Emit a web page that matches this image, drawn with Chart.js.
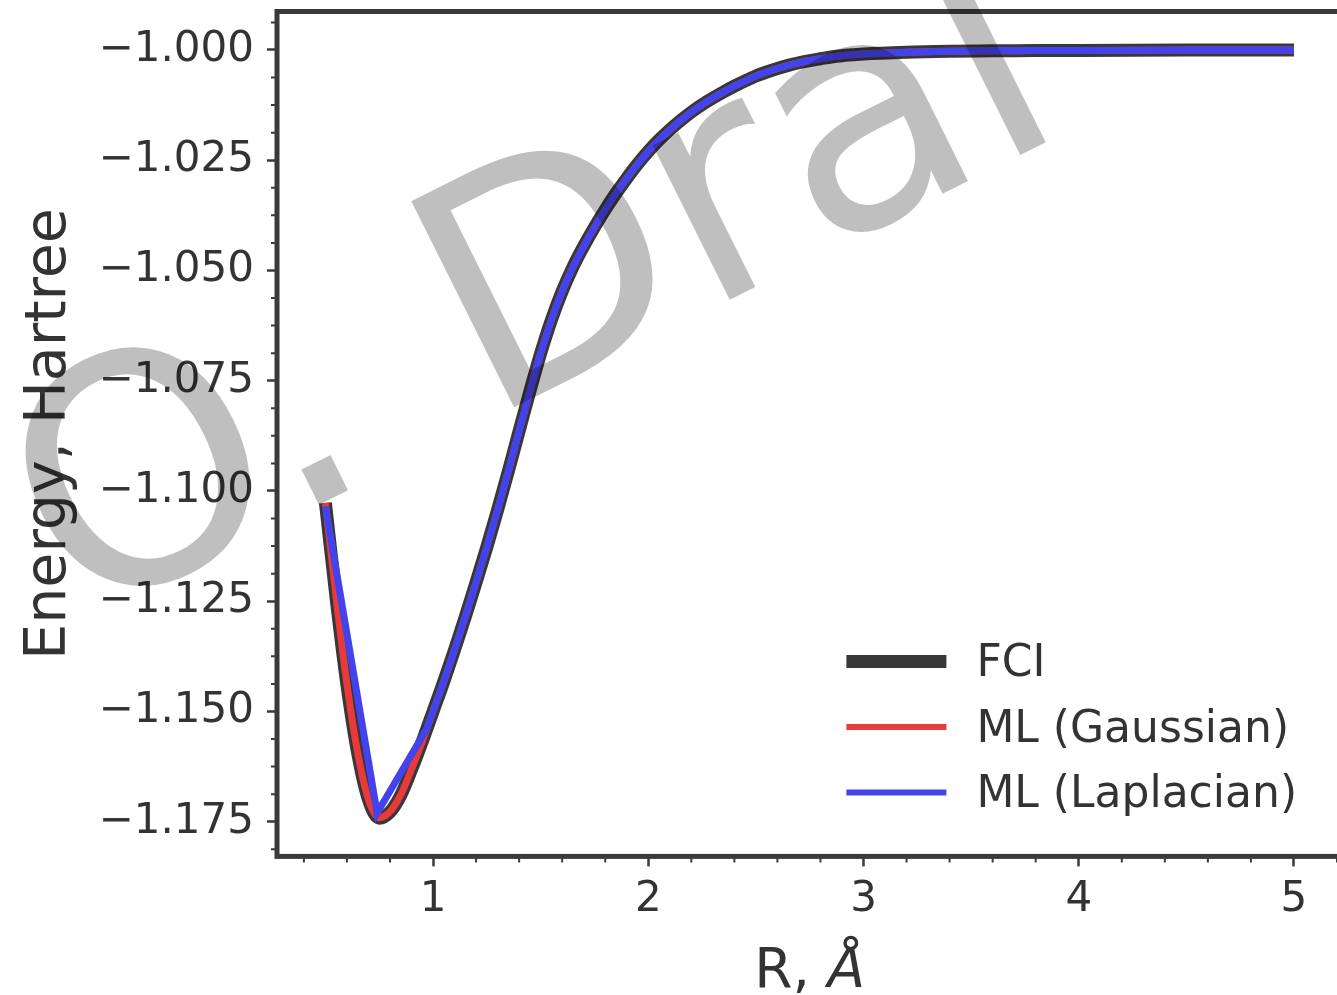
<!DOCTYPE html>
<html>
<head>
<meta charset="utf-8">
<title>H2 potential energy curve</title>
<script src="https://cdn.jsdelivr.net/npm/chart.js@4.4.1/dist/chart.umd.min.js"></script>
<style>
  html, body { margin: 0; padding: 0; background: #fff; overflow: hidden; }
  canvas { display: block; }
</style>
</head>
<body>
<canvas id="pesChart" width="1346" height="995"></canvas>
<script>
// H-H distance (Angstrom) and total energies (Hartree)
const distances = [
  0.50, 0.55, 0.60, 0.65, 0.70, 0.75, 0.80, 0.85, 0.90, 0.95,
  1.00, 1.05, 1.10, 1.15, 1.20, 1.25, 1.30, 1.35, 1.40, 1.45,
  1.50, 1.55, 1.60, 1.65, 1.70, 1.75, 1.80, 1.85, 1.90, 1.95,
  2.00, 2.05, 2.10, 2.15, 2.20, 2.25, 2.30, 2.35, 2.40, 2.45,
  2.50, 2.55, 2.60, 2.65, 2.70, 2.75, 2.80, 2.85, 2.90, 2.95,
  3.00, 3.20, 3.40, 3.60, 3.80, 4.00, 4.50, 5.00
];
const fciEnergy = [
  -1.1027, -1.1245, -1.1440, -1.1595, -1.1700, -1.1742, -1.1728, -1.1690, -1.1632, -1.1568,
  -1.1500, -1.1432, -1.1360, -1.1285, -1.1207, -1.1127, -1.1043, -1.0955, -1.0864, -1.0774,
  -1.0688, -1.0612, -1.0547, -1.0492, -1.0445, -1.0402, -1.0362, -1.0325, -1.0291, -1.0259,
  -1.0230, -1.0204, -1.0181, -1.0160, -1.0141, -1.0124, -1.0109, -1.0095, -1.0082, -1.0070,
  -1.0059, -1.0050, -1.0042, -1.0035, -1.0029, -1.0024, -1.0020, -1.0016, -1.0013, -1.0011,
  -1.0009, -1.0005, -1.0003, -1.0002, -1.0001, -1.0001, -1.0000, -1.0000
];
const gaussianEnergy = [
  -1.1027, -1.1243, -1.1438, -1.1594, -1.1700, -1.1741, -1.1727, -1.1689, -1.1631, -1.1568,
  -1.1500, -1.1432, -1.1360, -1.1285, -1.1207, -1.1127, -1.1043, -1.0955, -1.0864, -1.0774,
  -1.0688, -1.0612, -1.0547, -1.0492, -1.0445, -1.0402, -1.0362, -1.0325, -1.0291, -1.0259,
  -1.0230, -1.0204, -1.0181, -1.0160, -1.0141, -1.0124, -1.0109, -1.0095, -1.0082, -1.0070,
  -1.0059, -1.0050, -1.0042, -1.0035, -1.0029, -1.0024, -1.0020, -1.0016, -1.0013, -1.0011,
  -1.0009, -1.0005, -1.0003, -1.0002, -1.0001, -1.0001, -1.0000, -1.0000
];
const laplacianDistances = [
  0.50, 0.74, 0.97,
  1.00, 1.05, 1.10, 1.15, 1.20, 1.25, 1.30, 1.35, 1.40, 1.45,
  1.50, 1.55, 1.60, 1.65, 1.70, 1.75, 1.80, 1.85, 1.90, 1.95,
  2.00, 2.05, 2.10, 2.15, 2.20, 2.25, 2.30, 2.35, 2.40, 2.45,
  2.50, 2.55, 2.60, 2.65, 2.70, 2.75, 2.80, 2.85, 2.90, 2.95,
  3.00, 3.20, 3.40, 3.60, 3.80, 4.00, 4.50, 5.00
];
const laplacianEnergy = [
  -1.1035, -1.1730, -1.1540,
  -1.1500, -1.1432, -1.1360, -1.1285, -1.1207, -1.1127, -1.1043, -1.0955, -1.0864, -1.0774,
  -1.0688, -1.0612, -1.0547, -1.0492, -1.0445, -1.0402, -1.0362, -1.0325, -1.0291, -1.0259,
  -1.0230, -1.0204, -1.0181, -1.0160, -1.0141, -1.0124, -1.0109, -1.0095, -1.0082, -1.0070,
  -1.0059, -1.0050, -1.0042, -1.0035, -1.0029, -1.0024, -1.0020, -1.0016, -1.0013, -1.0011,
  -1.0009, -1.0005, -1.0003, -1.0002, -1.0001, -1.0001, -1.0000, -1.0000
];

const seriesLabels = ['FCI', 'ML (Gaussian)', 'ML (Laplacian)'];
const xMajorTicks = [1, 2, 3, 4, 5];
const yMajorTicks = [-1.175, -1.150, -1.125, -1.100, -1.075, -1.050, -1.025, -1.000];
const yAxisTitle = 'Energy, Hartree';
const xAxisTitle = ['R, ', 'Å'];
const watermarkParts = ['O. ', 'Dral'];

const FONT = '"DejaVu Sans", "Liberation Sans", sans-serif';
const INK = '#333333';
const SPINE = '#3a3a3a';

// minor ticks: every 0.2 on x, every 0.00625 on y
const xMinorTicks = [];
for (let i = 2; i <= 26; i++) {
  if (i % 5 !== 0) xMinorTicks.push(i / 5);
}
const yMinorTicks = [];
for (let i = -189; i <= -159; i++) {
  if (i % 4 !== 0) yMinorTicks.push(i * 0.00625);
}

function toPoints(xs, ys) {
  return xs.map((x, i) => ({ x: x, y: ys[i] }));
}

function minusLabel(v) {
  return (v < 0 ? '\u2212' : '') + Math.abs(v).toFixed(3);
}

// frame, minor ticks, x title, legend and the grey overlay text
const decorations = {
  id: 'decorations',
  beforeDraw(chart) {
    const ctx = chart.ctx;
    ctx.save();
    ctx.fillStyle = '#ffffff';
    ctx.fillRect(0, 0, chart.width, chart.height);
    ctx.restore();
  },
  afterDraw(chart) {
    const { ctx, chartArea: a, scales } = chart;
    const xs = scales.x, ys = scales.y;
    ctx.save();

    ctx.strokeStyle = SPINE;
    ctx.lineWidth = 2;
    ctx.beginPath();
    xMinorTicks.forEach(v => {
      const px = xs.getPixelForValue(v);
      ctx.moveTo(px, a.bottom);
      ctx.lineTo(px, a.bottom + 6);
    });
    yMinorTicks.forEach(v => {
      const py = ys.getPixelForValue(v);
      ctx.moveTo(a.left - 6, py);
      ctx.lineTo(a.left, py);
    });
    ctx.stroke();

    ctx.lineWidth = 5;
    ctx.strokeRect(a.left, a.top, a.right - a.left, a.bottom - a.top);

    // x axis title, with an italic angstrom sign
    ctx.fillStyle = INK;
    ctx.textBaseline = 'alphabetic';
    ctx.textAlign = 'left';
    const upright = '55px ' + FONT;
    const slanted = 'oblique 55px ' + FONT;
    ctx.font = upright;
    const w1 = ctx.measureText(xAxisTitle[0]).width;
    ctx.font = slanted;
    const w2 = ctx.measureText(xAxisTitle[1]).width;
    const cx = (a.left + a.right) / 2;
    const startX = cx - (w1 + w2) / 2;
    ctx.font = upright;
    ctx.fillText(xAxisTitle[0], startX, 987);
    ctx.font = slanted;
    ctx.fillText(xAxisTitle[1], startX + w1, 987);

    // legend, lower right
    const handleX0 = a.right - 496;
    const handleX1 = a.right - 396;
    const textX = a.right - 366;
    const rowY = [a.bottom - 195, a.bottom - 129.5, a.bottom - 64];
    ctx.font = '44px ' + FONT;
    chart.data.datasets.forEach((ds, i) => {
      ctx.strokeStyle = ds.borderColor;
      ctx.lineWidth = ds.legendWidth;
      ctx.lineCap = 'butt';
      ctx.beginPath();
      ctx.moveTo(handleX0, rowY[i]);
      ctx.lineTo(handleX1, rowY[i]);
      ctx.stroke();
      ctx.fillStyle = INK;
      ctx.fillText(ds.label, textX, rowY[i] + 15);
    });

    // watermark
    ctx.globalCompositeOperation = 'multiply';
    ctx.fillStyle = '#bfbfbf';
    ctx.font = '316px ' + FONT;
    ctx.translate(77.5, 625);
    ctx.rotate(-26.5 * Math.PI / 180);
    ctx.fillText(watermarkParts[0], 0, 0);
    const gap = ctx.measureText(watermarkParts[0]).width + 20;
    ctx.fillText(watermarkParts[1], gap, 0);

    ctx.restore();
  }
};

const ctx = document.getElementById('pesChart').getContext('2d');
new Chart(ctx, {
  type: 'line',
  data: {
    datasets: [
      {
        label: seriesLabels[0],
        data: toPoints(distances, fciEnergy),
        borderColor: '#383838',
        borderWidth: 13,
        legendWidth: 13,
        cubicInterpolationMode: 'monotone',
        order: 3
      },
      {
        label: seriesLabels[1],
        data: toPoints(distances, gaussianEnergy),
        borderColor: '#e8393b',
        borderWidth: 7,
        legendWidth: 6,
        cubicInterpolationMode: 'monotone',
        order: 2
      },
      {
        label: seriesLabels[2],
        data: toPoints(laplacianDistances, laplacianEnergy),
        borderColor: '#4343ee',
        borderWidth: 7,
        legendWidth: 6,
        tension: 0,
        order: 1
      }
    ]
  },
  options: {
    responsive: false,
    animation: false,
    devicePixelRatio: 1,
    layout: { padding: { top: 11.5, right: 3.6, left: 0, bottom: 0 } },
    elements: { point: { radius: 0, hoverRadius: 0 } },
    plugins: {
      legend: { display: false },
      tooltip: { enabled: false }
    },
    scales: {
      x: {
        type: 'linear',
        min: 0.275,
        max: 5.225,
        afterBuildTicks: scale => { scale.ticks = xMajorTicks.map(v => ({ value: v })); },
        afterFit: scale => {
          scale.height = 138.6;
          scale.paddingLeft = 0;
          scale.paddingRight = 0;
        },
        ticks: {
          autoSkip: false,
          maxRotation: 0,
          padding: 8,
          color: INK,
          font: { family: FONT, size: 42 },
          callback: v => String(v)
        },
        grid: { drawOnChartArea: false, drawTicks: true, tickLength: 10, tickWidth: 2.5, tickColor: SPINE },
        border: { display: false }
      },
      y: {
        type: 'linear',
        min: -1.18286,
        max: -0.99128,
        afterBuildTicks: scale => { scale.ticks = yMajorTicks.map(v => ({ value: v })); },
        afterFit: scale => {
          scale.width = 277;
          scale.paddingTop = 0;
          scale.paddingBottom = 0;
        },
        ticks: {
          autoSkip: false,
          padding: 13,
          color: INK,
          font: { family: FONT, size: 42 },
          callback: v => minusLabel(v)
        },
        title: {
          display: true,
          text: yAxisTitle,
          color: INK,
          font: { family: FONT, size: 57 },
          padding: { top: 16, bottom: 0 }
        },
        grid: { drawOnChartArea: false, drawTicks: true, tickLength: 10, tickWidth: 2.5, tickColor: SPINE },
        border: { display: false }
      }
    }
  },
  plugins: [decorations]
});
</script>
</body>
</html>
